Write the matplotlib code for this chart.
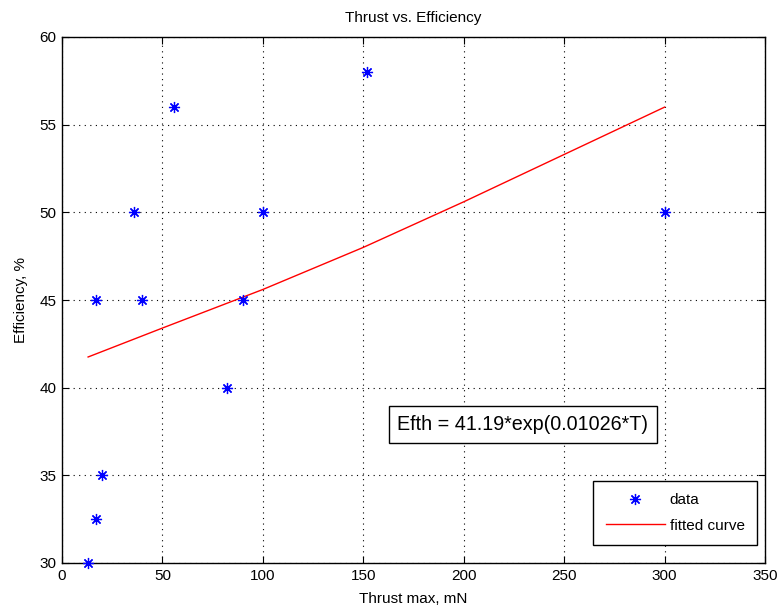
import matplotlib
matplotlib.use("Agg")
import matplotlib.pyplot as plt

plt.rcParams['font.family'] = ['Liberation Sans', 'DejaVu Sans']

# === Data ===
thrust = [13, 17, 17, 20, 36, 40, 56, 82, 90, 100, 152, 300]
efficiency = [30, 32.5, 45, 35, 50, 45, 56, 40, 45, 50, 58, 50]

# fitted curve
fit_t = [13, 50, 100, 150, 200, 250, 300]
fit_eff = [41.75, 43.4, 45.6, 48.0, 50.6, 53.3, 56.0]

xticks = [0, 50, 100, 150, 200, 250, 300, 350]
yticks = [30, 35, 40, 45, 50, 55, 60]

# === Plotting ===
fig = plt.figure(figsize=(7.81, 6.09), dpi=100)
ax = fig.add_axes([62 / 781, 1 - 563 / 609, (765 - 62) / 781, (563 - 37) / 609])

ax.plot(thrust, efficiency, linestyle='none', marker=(8, 2, 0), markersize=8,
        markeredgewidth=0.9, color='blue', label='data', clip_on=False, zorder=3)
ax.plot(fit_t, fit_eff, color='red', linewidth=1.0, label='fitted curve')

ax.set_xlim(0, 350)
ax.set_ylim(30, 60)
ax.set_xticks(xticks)
ax.set_yticks(yticks)
ax.grid(True, linestyle=(0, (1, 4)), color='black', linewidth=0.8)
ax.tick_params(direction='in', length=5, labelsize=11, top=True, right=True,
               labeltop=False, labelright=False, pad=4)
for s in ax.spines.values():
    s.set_linewidth(1.0)

ax.set_title("Thrust vs. Efficiency", fontsize=11, pad=11)
ax.set_xlabel("Thrust max, mN", fontsize=11, labelpad=7)
ax.set_ylabel("Efficiency, %", fontsize=11, labelpad=8)

ax.text(229.5, 37.9, "Efth = 41.19*exp(0.01026*T)", fontsize=14.2,
        ha='center', va='center',
        bbox=dict(boxstyle='square,pad=0.45', facecolor='white', edgecolor='black', linewidth=1.0))

leg = ax.legend(loc='lower right', bbox_to_anchor=(757 / 781, 1 - 545 / 609),
                bbox_transform=fig.transFigure, borderaxespad=0,
                fontsize=11, fancybox=False, framealpha=1, edgecolor='black',
                handlelength=3.9, handletextpad=0.3, borderpad=0.8, labelspacing=0.75)
leg.get_frame().set_linewidth(1.0)

fig.savefig("out.png", dpi=100)
